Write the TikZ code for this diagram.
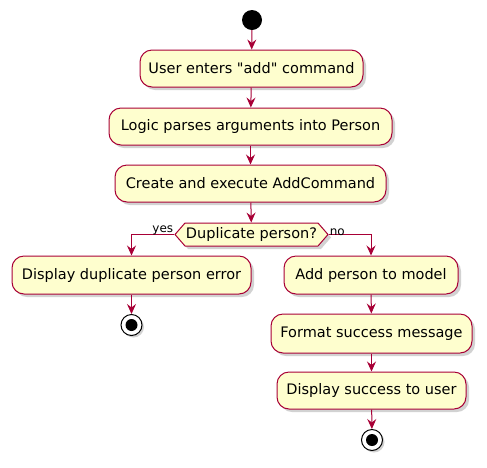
\documentclass[tikz,border=0pt]{standalone}
\usepackage{fontspec}
\setmainfont{DejaVu Sans}[Ligatures=TeXOff]
\usetikzlibrary{arrows.meta,shapes.symbols,shadows}
\definecolor{umlred}{HTML}{A80036}
\definecolor{umlfill}{HTML}{FEFECE}
\tikzset{
  act/.style={draw=umlred, fill=umlfill, line width=1pt, rounded corners=12pt,
    inner sep=0pt, font=\fontsize{14.5}{16}\selectfont,
    drop shadow={shadow xshift=3pt, shadow yshift=-3pt, fill=black!35, opacity=0.5}},
  dec/.style={draw=umlred, fill=umlfill, line width=1pt, signal, signal to=east and west,
    signal pointer angle=98, inner sep=0pt,
    font=\fontsize{14.5}{16}\selectfont,
    drop shadow={shadow xshift=3pt, shadow yshift=-3pt, fill=black!35, opacity=0.5}},
  flow/.style={draw=umlred, line width=1pt, -{Stealth[length=10pt,width=9pt,inset=3.5pt]}},
  lbl/.style={font=\fontsize{12}{14}\selectfont, inner sep=0pt},
  startdot/.style={circle, fill=black, minimum size=20pt, inner sep=0pt},
  stopring/.style={circle, draw=black, fill=white, line width=1pt, minimum size=21pt, inner sep=0pt,
    drop shadow={shadow xshift=2pt, shadow yshift=-2pt, fill=black!35, opacity=0.5}},
  stopdot/.style={circle, fill=black, minimum size=12pt, inner sep=0pt}
}
\begin{document}
\begin{tikzpicture}[x=1pt,y=-1pt]
\useasboundingbox (0,0) rectangle (487,467);
\node[startdot] (start) at (252,20) {};
\node[act, minimum width=223pt, minimum height=37pt] (b1) at (251.5,68.5) {User enters "add" command};
\node[act, minimum width=283pt, minimum height=37pt] (b2) at (250.5,126.5) {Logic parses arguments into Person};
\node[act, minimum width=271pt, minimum height=37pt] (b3) at (250.5,183.5) {Create and execute AddCommand};
\node[dec, minimum width=153pt, minimum height=23pt] (d) at (251.5,234.5) {Duplicate person?};
\node[act, minimum width=239pt, minimum height=38pt] (b4) at (131.5,275) {Display duplicate person error};
\node[act, minimum width=174pt, minimum height=38pt] (b5) at (371,275) {Add person to model};
\node[act, minimum width=201pt, minimum height=39pt] (b6) at (371.5,333.5) {Format success message};
\node[act, minimum width=189pt, minimum height=37pt] (b7) at (371.5,390.5) {Display success to user};
\node[stopring] (stop1) at (131.5,325) {};
\node[stopdot] at (stop1) {};
\node[stopring] (stop2) at (372,440) {};
\node[stopdot] at (stop2) {};
\draw[flow] (start) -- (b1);
\draw[flow] (b1) -- (b2);
\draw[flow] (b2) -- (b3);
\draw[flow] (b3) -- (d);
\draw[flow] (d.west) -| (b4.north);
\draw[flow] (d.east) -| (b5.north);
\draw[flow] (b4) -- (stop1);
\draw[flow] (b5) -- (b6);
\draw[flow] (b6) -- (b7);
\draw[flow] (b7) -- (stop2);
\node[lbl, anchor=south east] (yes) at ([xshift=-1pt,yshift=-1pt]d.west) {yes};
\node[lbl, anchor=south west] (no) at ([xshift=1pt,yshift=-1pt]d.east) {no};
\end{tikzpicture}
\end{document}
